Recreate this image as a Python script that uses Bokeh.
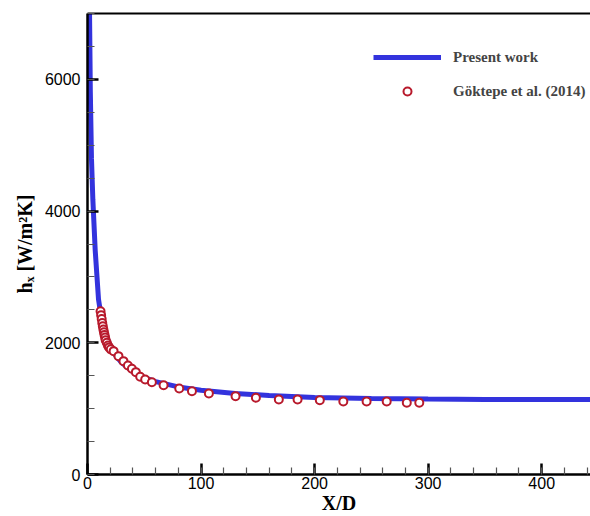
from bokeh.plotting import figure
from bokeh.models import (LinearAxis, FixedTicker, SingleIntervalTicker, Legend, LegendItem,
                          Range1d)
from bokeh.embed import file_html
from bokeh.resources import INLINE

# Present work (curve)
curve_x = [0.5, 1.0, 1.5, 1.8, 2.5, 3.5, 4.7, 6.8, 9.7, 12, 15, 20, 25, 30, 40, 50, 60, 80,
           100, 130, 160, 200, 250, 300, 350, 400, 450]
curve_y = [9500, 8200, 7400, 7000, 5800, 4800, 4180, 3400, 2660, 2400, 2180, 1950, 1800, 1700,
           1560, 1470, 1410, 1330, 1280, 1230, 1200, 1170, 1155, 1145, 1140, 1140, 1140]

# Goktepe et al. (2014)
exp_x = [11.5, 12, 12.5, 13, 13.5, 14, 14.5, 15, 15.5, 16, 17, 18, 19, 20.5,
         23, 27.3, 31.7, 35.6, 39.1, 42.6, 46.4, 50.8, 56.7, 67, 80.8, 92,
         106.9, 130.4, 148.3, 168.5, 185.0, 204.6, 225.3, 245.8, 263.5, 281.2, 292.2]
exp_y = [2480, 2420, 2360, 2300, 2250, 2200, 2160, 2120, 2080, 2040, 2000, 1960, 1930, 1900,
         1873, 1797, 1721, 1656, 1605, 1554, 1484, 1443, 1402, 1356, 1306, 1265,
         1230, 1190, 1165, 1139, 1139, 1129, 1109, 1109, 1109, 1089, 1089]

p = figure(width=590, height=516, output_backend="svg", toolbar_location=None,
           x_range=Range1d(0, 443), y_range=Range1d(0, 7000),
           min_border_left=87, min_border_right=0, min_border_top=13, min_border_bottom=41,
           x_axis_label="X/D", y_axis_label="hₓ [W/m²K]")
p.outline_line_color = None
p.grid.visible = False
p.background_fill_color = "white"
p.border_fill_color = "white"

p.xaxis.ticker = SingleIntervalTicker(interval=100, num_minor_ticks=5)
p.yaxis.ticker = SingleIntervalTicker(interval=2000, num_minor_ticks=4)

for ax in (p.xaxis[0], p.yaxis[0]):
    ax.axis_line_width = 2.5
    ax.axis_line_color = "black"
    ax.major_tick_in = 11
    ax.major_tick_out = 0
    ax.major_tick_line_width = 2.5
    ax.minor_tick_in = 7
    ax.minor_tick_out = 0
    ax.minor_tick_line_width = 1.2
    ax.minor_tick_line_color = "#555555"
    ax.major_label_text_font = "Liberation Sans"
    ax.major_label_text_font_size = "16px"
    ax.major_label_text_color = "black"
    ax.axis_label_text_font = "Liberation Serif"
    ax.axis_label_text_font_style = "bold"
    ax.axis_label_text_font_size = "20px"
    ax.axis_label_text_color = "black"

p.xaxis.major_label_standoff = 2
p.xaxis.axis_label_standoff = 0
p.yaxis.major_label_standoff = 7
p.yaxis.axis_label_standoff = 6

top = LinearAxis(ticker=FixedTicker(ticks=[]), major_tick_line_color=None,
                 minor_tick_line_color=None, axis_line_width=2, axis_line_color="black",
                 major_label_text_font_size="0px")
p.add_layout(top, "above")

line_r = p.line(curve_x, curve_y, line_color="#3333dd", line_width=5)
pts_r = p.scatter(exp_x, exp_y, marker="circle", size=8, line_color="#b81a2c",
                  line_width=2, fill_color="white")

legend = Legend(items=[LegendItem(label="Present work", renderers=[line_r]),
                       LegendItem(label="Göktepe et al. (2014)", renderers=[pts_r])],
                location=(286, 373), border_line_color=None, background_fill_alpha=0,
                padding=0, margin=0, spacing=14, glyph_width=68, glyph_height=20,
                label_height=20, label_standoff=12,
                label_text_font="Liberation Serif", label_text_font_style="bold",
                label_text_font_size="15px")
p.add_layout(legend, "center")

open("out.html", "w").write(file_html(p, INLINE))
